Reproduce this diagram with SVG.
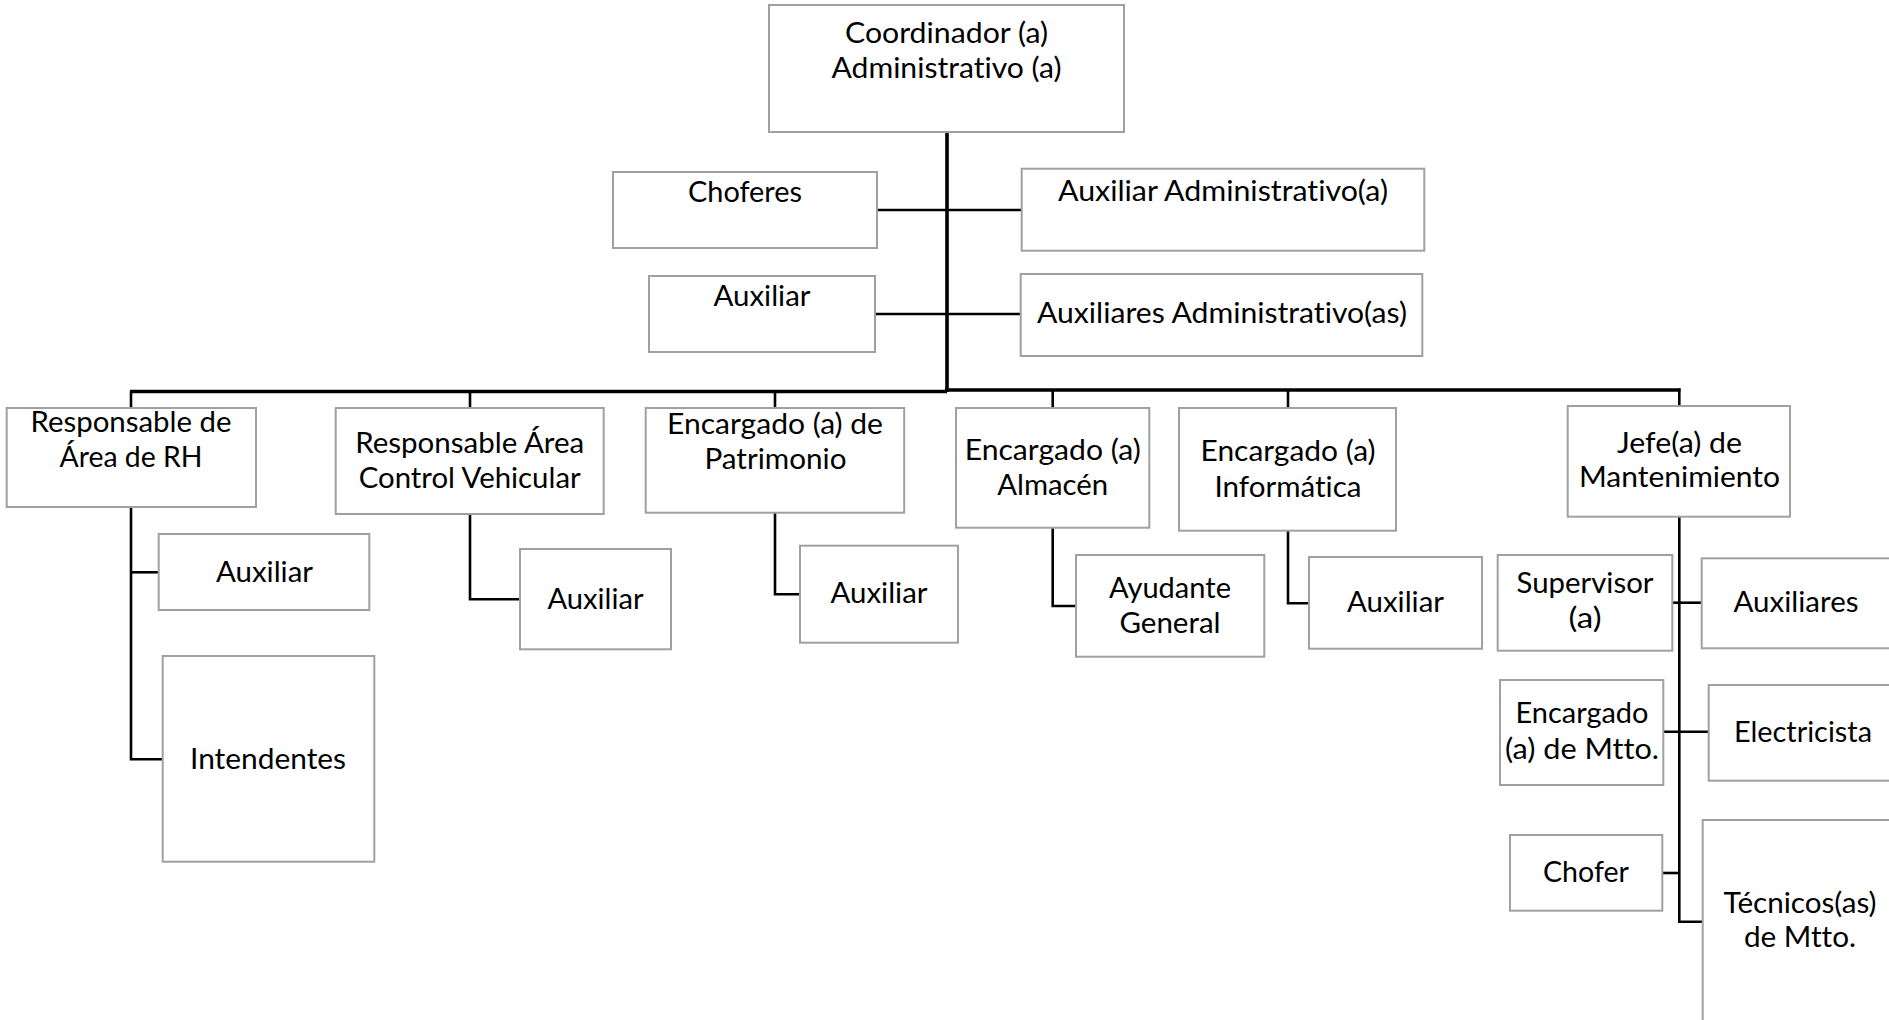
<svg xmlns="http://www.w3.org/2000/svg" width="1889" height="1020" viewBox="0 0 1889 1020">
<style>
.box{fill:#fff;stroke:#a0a0a0;stroke-width:2}
.t{font-family:Lato,"Open Sans","Liberation Sans",sans-serif;font-size:28px;fill:#000;text-anchor:middle;font-variant-ligatures:none;font-feature-settings:"liga" 0}
.c{fill:none;stroke:#000;stroke-width:2.6;stroke-linejoin:miter}
.k{fill:none;stroke:#000;stroke-width:3.6}
</style>
<rect width="1889" height="1020" fill="#fff"/>
<g id="connectors">
<line class="k" x1="947" y1="132" x2="947" y2="392"/>
<line class="k" x1="130" y1="391.5" x2="947" y2="391.5"/>
<line class="k" x1="945" y1="390" x2="1680.5" y2="390"/>
<line class="c" x1="877" y1="210" x2="1022" y2="210"/>
<line class="c" x1="875" y1="314" x2="1021" y2="314"/>
<line class="c" x1="131" y1="391" x2="131" y2="408"/>
<line class="c" x1="470" y1="391" x2="470" y2="408"/>
<line class="c" x1="775" y1="391" x2="775" y2="408"/>
<line class="c" x1="1052.7" y1="391" x2="1052.7" y2="408"/>
<line class="c" x1="1288" y1="390" x2="1288" y2="408"/>
<line class="c" x1="1679.3" y1="388.5" x2="1679.3" y2="406"/>
<polyline class="c" points="131,507 131,759.3 162.7,759.3"/>
<line class="c" x1="131" y1="572.3" x2="158.7" y2="572.3"/>
<polyline class="c" points="470,514 470,599.3 520,599.3"/>
<polyline class="c" points="775,512.7 775,594.3 800,594.3"/>
<polyline class="c" points="1052.7,527.7 1052.7,606 1076,606"/>
<polyline class="c" points="1288,530.7 1288,603.3 1309,603.3"/>
<polyline class="c" points="1679.3,516.7 1679.3,921.7 1702.7,921.7"/>
<line class="c" x1="1672.3" y1="602.7" x2="1701.7" y2="602.7"/>
<line class="c" x1="1663.3" y1="731.7" x2="1708.7" y2="731.7"/>
<line class="c" x1="1662.3" y1="873" x2="1679.3" y2="873"/>
</g>
<g id="coordinador">
<rect class="box" x="769" y="5" width="355" height="127"/>
<text class="t" x="946.5" y="43" textLength="203" lengthAdjust="spacingAndGlyphs">Coordinador (a)</text>
<text class="t" x="946.5" y="78" textLength="230" lengthAdjust="spacingAndGlyphs">Administrativo (a)</text>
</g>
<g id="choferes">
<rect class="box" x="613" y="172" width="264" height="76"/>
<text class="t" x="745" y="202" textLength="114" lengthAdjust="spacingAndGlyphs">Choferes</text>
</g>
<g id="auxiliar-top">
<rect class="box" x="649" y="276" width="226" height="76"/>
<text class="t" x="762" y="306" textLength="97" lengthAdjust="spacingAndGlyphs">Auxiliar</text>
</g>
<g id="aux-admin-a">
<rect class="box" x="1021.7" y="168.7" width="402.6" height="82"/>
<text class="t" x="1223" y="201" textLength="330" lengthAdjust="spacingAndGlyphs">Auxiliar Administrativo(a)</text>
</g>
<g id="aux-admin-as">
<rect class="box" x="1020.7" y="274" width="401.6" height="82"/>
<text class="t" x="1222" y="323" textLength="370" lengthAdjust="spacingAndGlyphs">Auxiliares Administrativo(as)</text>
</g>
<g id="rh">
<rect class="box" x="6.7" y="408" width="249.3" height="99"/>
<text class="t" x="131" y="432" textLength="201" lengthAdjust="spacingAndGlyphs">Responsable de</text>
<text class="t" x="131" y="467" textLength="143" lengthAdjust="spacingAndGlyphs">Área de RH</text>
</g>
<g id="rh-auxiliar">
<rect class="box" x="158.7" y="534" width="210.6" height="76"/>
<text class="t" x="264.5" y="582" textLength="97" lengthAdjust="spacingAndGlyphs">Auxiliar</text>
</g>
<g id="rh-intendentes">
<rect class="box" x="162.7" y="656" width="211.6" height="205.7"/>
<text class="t" x="268" y="769" textLength="156" lengthAdjust="spacingAndGlyphs">Intendentes</text>
</g>
<g id="control-vehicular">
<rect class="box" x="335.7" y="408" width="268" height="106"/>
<text class="t" x="469.7" y="453" textLength="229" lengthAdjust="spacingAndGlyphs">Responsable Área</text>
<text class="t" x="469.7" y="488" textLength="222" lengthAdjust="spacingAndGlyphs">Control Vehicular</text>
</g>
<g id="cv-auxiliar">
<rect class="box" x="520" y="549" width="151" height="100.3"/>
<text class="t" x="595.5" y="609" textLength="96" lengthAdjust="spacingAndGlyphs">Auxiliar</text>
</g>
<g id="patrimonio">
<rect class="box" x="645.7" y="408" width="258.5" height="104.7"/>
<text class="t" x="775" y="434" textLength="216" lengthAdjust="spacingAndGlyphs">Encargado (a) de</text>
<text class="t" x="775.5" y="469" textLength="142" lengthAdjust="spacingAndGlyphs">Patrimonio</text>
</g>
<g id="pat-auxiliar">
<rect class="box" x="800" y="545.7" width="158" height="97"/>
<text class="t" x="879" y="603" textLength="97" lengthAdjust="spacingAndGlyphs">Auxiliar</text>
</g>
<g id="almacen">
<rect class="box" x="956" y="408" width="193.3" height="119.7"/>
<text class="t" x="1052.7" y="460" textLength="176" lengthAdjust="spacingAndGlyphs">Encargado (a)</text>
<text class="t" x="1052.7" y="495" textLength="111" lengthAdjust="spacingAndGlyphs">Almacén</text>
</g>
<g id="ayudante">
<rect class="box" x="1076" y="555" width="188.3" height="101.7"/>
<text class="t" x="1170" y="598" textLength="122" lengthAdjust="spacingAndGlyphs">Ayudante</text>
<text class="t" x="1170" y="633" textLength="101" lengthAdjust="spacingAndGlyphs">General</text>
</g>
<g id="informatica">
<rect class="box" x="1179" y="408" width="217" height="122.7"/>
<text class="t" x="1288" y="461" textLength="175" lengthAdjust="spacingAndGlyphs">Encargado (a)</text>
<text class="t" x="1288" y="497" textLength="147" lengthAdjust="spacingAndGlyphs">Informática</text>
</g>
<g id="inf-auxiliar">
<rect class="box" x="1309" y="557" width="173" height="91.7"/>
<text class="t" x="1395.5" y="612" textLength="97" lengthAdjust="spacingAndGlyphs">Auxiliar</text>
</g>
<g id="mantenimiento">
<rect class="box" x="1567.7" y="406" width="222.3" height="110.7"/>
<text class="t" x="1679.5" y="453" textLength="125" lengthAdjust="spacingAndGlyphs">Jefe(a) de</text>
<text class="t" x="1679.5" y="487" textLength="201" lengthAdjust="spacingAndGlyphs">Mantenimiento</text>
</g>
<g id="supervisor">
<rect class="box" x="1497.7" y="555" width="174.6" height="95.7"/>
<text class="t" x="1585" y="593" textLength="137" lengthAdjust="spacingAndGlyphs">Supervisor</text>
<text class="t" x="1585" y="628" textLength="33" lengthAdjust="spacingAndGlyphs">(a)</text>
</g>
<g id="auxiliares">
<rect class="box" x="1701.7" y="558.3" width="188.3" height="90"/>
<text class="t" x="1796" y="612" textLength="125" lengthAdjust="spacingAndGlyphs">Auxiliares</text>
</g>
<g id="encargado-mtto">
<rect class="box" x="1500" y="680" width="163.3" height="105"/>
<text class="t" x="1582" y="723" textLength="133" lengthAdjust="spacingAndGlyphs">Encargado</text>
<text class="t" x="1582" y="759" textLength="154" lengthAdjust="spacingAndGlyphs">(a) de Mtto.</text>
</g>
<g id="electricista">
<rect class="box" x="1708.7" y="685" width="188.3" height="95.7"/>
<text class="t" x="1803" y="742" textLength="138" lengthAdjust="spacingAndGlyphs">Electricista</text>
</g>
<g id="chofer">
<rect class="box" x="1510" y="835" width="152.3" height="75.7"/>
<text class="t" x="1586" y="882" textLength="86" lengthAdjust="spacingAndGlyphs">Chofer</text>
</g>
<g id="tecnicos">
<rect class="box" x="1702.7" y="820" width="195" height="220"/>
<text class="t" x="1800" y="913" textLength="153" lengthAdjust="spacingAndGlyphs">Técnicos(as)</text>
<text class="t" x="1800" y="947" textLength="112" lengthAdjust="spacingAndGlyphs">de Mtto.</text>
</g>
</svg>
